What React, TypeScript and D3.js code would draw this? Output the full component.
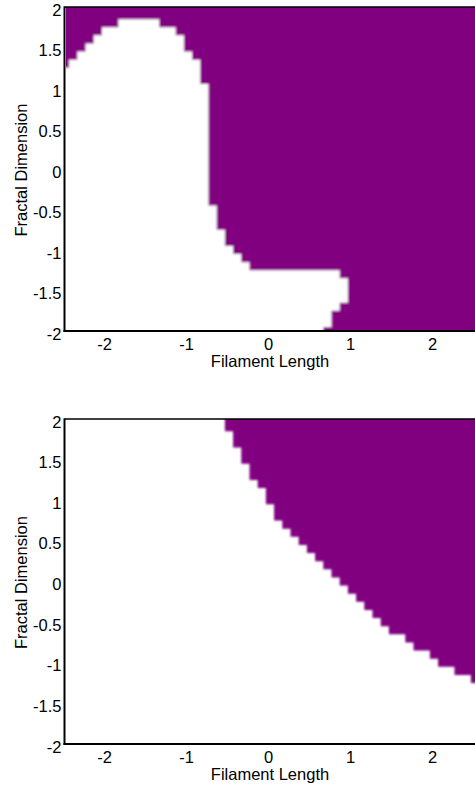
import React from 'react';
import * as d3 from 'd3';

const W = 475;
const H = 785;

const xDomain: [number, number] = [-2.5, 2.5];
const yDomain: [number, number] = [-2, 2];
const xTicks = [-2, -1, 0, 1, 2];
const yTicks = [2, 1.5, 1, 0.5, 0, -0.5, -1, -1.5, -2];
const xTickLabels = ['-2', '-1', '0', '1', '2'];
const yTickLabels = ['2', '1.5', '1', '0.5', '0', '-0.5', '-1', '-1.5', '-2'];
const xTitle = 'Filament Length';
const yTitle = 'Fractal Dimension';
const cellSize = 0.1; // spacing of the classification grid

// Panel 1: grid columns that contain the white (class 0) region,
// with the highest and lowest white grid row in each column.
const p1Cols = [
  -2.5, -2.4, -2.3, -2.2, -2.1, -2.0, -1.9, -1.8, -1.7, -1.6, -1.5, -1.4,
  -1.3, -1.2, -1.1, -1.0, -0.9, -0.8, -0.7, -0.6, -0.5, -0.4, -0.3, -0.2,
  -0.1, 0.0, 0.1, 0.2, 0.3, 0.4, 0.5, 0.6, 0.7, 0.8, 0.9,
];
const p1WhiteTop = [
  1.2, 1.3, 1.4, 1.5, 1.6, 1.7, 1.7, 1.8, 1.8, 1.8, 1.8, 1.8,
  1.7, 1.7, 1.6, 1.4, 1.3, 1.0, -0.5, -0.8, -1.0, -1.1, -1.2, -1.3,
  -1.3, -1.3, -1.3, -1.3, -1.3, -1.3, -1.3, -1.3, -1.3, -1.3, -1.4,
];
const p1WhiteBottom = [
  -2, -2, -2, -2, -2, -2, -2, -2, -2, -2, -2, -2,
  -2, -2, -2, -2, -2, -2, -2, -2, -2, -2, -2, -2,
  -2, -2, -2, -2, -2, -2, -2, -2, -1.9, -1.7, -1.6,
];

// Panel 2: grid columns containing purple (class 1), with the lowest purple row.
const p2Cols = [
  -0.5, -0.4, -0.3, -0.2, -0.1, 0.0, 0.1, 0.2, 0.3, 0.4, 0.5, 0.6, 0.7,
  0.8, 0.9, 1.0, 1.1, 1.2, 1.3, 1.4, 1.5, 1.6, 1.7, 1.8, 1.9, 2.0, 2.1,
  2.2, 2.3, 2.4, 2.5,
];
const p2PurpleLow = [
  1.9, 1.7, 1.5, 1.3, 1.2, 1.0, 0.8, 0.7, 0.6, 0.5, 0.4, 0.3, 0.2,
  0.1, 0.0, -0.1, -0.2, -0.3, -0.4, -0.5, -0.6, -0.6, -0.7, -0.8, -0.8, -0.9, -1.0,
  -1.0, -1.1, -1.1, -1.2,
];

const PURPLE = '#800080';
const FONT = '"Liberation Sans", Arial, Helvetica, sans-serif';
const FS = 16.5;

type Pt = { x: number; y0: number; y1: number };

function stepPoints(cols: number[], lo: number[], hi: number[]): Pt[] {
  const h = cellSize / 2;
  const pts: Pt[] = cols.map((c, i) => ({ x: c - h, y0: lo[i], y1: hi[i] }));
  const last = pts[pts.length - 1];
  pts.push({ x: cols[cols.length - 1] + h, y0: last.y0, y1: last.y1 });
  return pts;
}

function Panel({ id, top, bottom, kind }: { id: string; top: number; bottom: number; kind: 1 | 2 }) {
  const left = 65;
  const right = 475;
  const x = d3.scaleLinear().domain(xDomain).range([left, right]);
  const y = d3.scaleLinear().domain(yDomain).range([bottom, top]);
  const h = cellSize / 2;
  const area = d3
    .area<Pt>()
    .x((d) => x(d.x))
    .y0((d) => y(d.y0))
    .y1((d) => y(d.y1))
    .curve(d3.curveStepAfter);

  let region: React.ReactNode;
  if (kind === 1) {
    const pts = stepPoints(
      p1Cols,
      p1WhiteBottom.map((v) => v - h),
      p1WhiteTop.map((v) => v + h)
    );
    region = (
      <>
        <rect
          x={x(xDomain[0] - h)}
          y={y(yDomain[1] + h)}
          width={x(xDomain[1] + h) - x(xDomain[0] - h)}
          height={y(yDomain[0] - h) - y(yDomain[1] + h)}
          fill={PURPLE}
        />
        <path d={area(pts) || ''} fill="#fff" />
      </>
    );
  } else {
    const pts = stepPoints(
      p2Cols,
      p2PurpleLow.map((v) => v - h),
      p2Cols.map(() => yDomain[1] + h)
    );
    region = <path d={area(pts) || ''} fill={PURPLE} />;
  }

  const midY = (top + bottom) / 2;

  return (
    <g>
      <defs>
        <clipPath id={`clip-${id}`}>
          <rect x={left + 1} y={top} width={right - left} height={bottom - top} />
        </clipPath>
      </defs>
      <g clipPath={`url(#clip-${id})`}>
        <g filter="url(#soft)">{region}</g>
      </g>
      <line x1={left} x2={right + 2} y1={top} y2={top} stroke="#000" strokeWidth={1.6} />
      <line x1={left - 0.5} x2={left - 0.5} y1={top - 0.8} y2={bottom + 1} stroke="#000" strokeWidth={2} />
      <line x1={left - 1.5} x2={right + 2} y1={bottom} y2={bottom} stroke="#000" strokeWidth={2} />
      {yTicks.map((t, i) => (
        <text
          key={`y${i}`}
          x={61.5}
          y={y(t) + 8.5}
          textAnchor="end"
          fontFamily={FONT}
          fontSize={FS}
          fill="#000"
        >
          {yTickLabels[i]}
        </text>
      ))}
      {xTicks.map((t, i) => (
        <text
          key={`x${i}`}
          x={x(t) - 1.5}
          y={bottom + 18.5}
          textAnchor="middle"
          fontFamily={FONT}
          fontSize={FS}
          fill="#000"
        >
          {xTickLabels[i]}
        </text>
      ))}
      <text
        x={x(0)}
        y={bottom + 36}
        textAnchor="middle"
        fontFamily={FONT}
        fontSize={FS}
        fill="#000"
      >
        {xTitle}
      </text>
      <text
        transform={`translate(27,${midY + 1}) rotate(-90)`}
        textAnchor="middle"
        fontFamily={FONT}
        fontSize={FS}
        fill="#000"
      >
        {yTitle}
      </text>
    </g>
  );
}

export default function App() {
  return (
    <svg
      width={W}
      height={H}
      viewBox={`0 0 ${W} ${H}`}
      style={{ position: 'absolute', left: 0, top: 0, background: '#fff' }}
    >
      <defs>
        <filter id="soft" x="-0.05" y="-0.05" width="1.1" height="1.1">
          <feGaussianBlur stdDeviation={1.1} />
        </filter>
      </defs>
      <rect x={0} y={0} width={W} height={H} fill="#fff" />
      <Panel id="p1" top={7} bottom={331} kind={1} />
      <Panel id="p2" top={419} bottom={744} kind={2} />
    </svg>
  );
}
